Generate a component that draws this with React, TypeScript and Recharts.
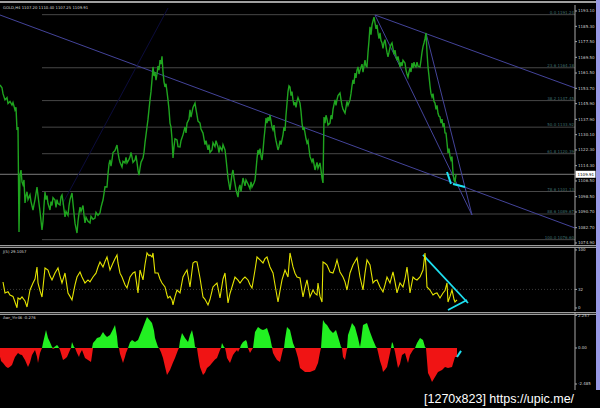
import React from "react";
import {
  Area,
  ComposedChart,
  Line,
  LineChart,
  ReferenceLine,
  XAxis,
  YAxis,
} from "recharts";

// GOLD H4 close, [bar, price]
const goldH4: [number, number][] = [
  [0, 1155.4], [2, 1154.0], [3, 1151.0], [5, 1147.8], [7, 1149.0], [8, 1146.0], [10, 1147.0], [12, 1145.2],
  [13, 1146.5], [15, 1142.7], [16, 1144.0], [17, 1132.5], [18, 1134.0], [19, 1080.5], [20, 1109.5], [21, 1112.0],
  [22, 1106.0], [23, 1104.5], [24, 1107.0], [25, 1095.3], [26, 1099.0], [27, 1101.0], [28, 1097.0], [30, 1099.4],
  [31, 1096.0], [33, 1091.7], [34, 1094.5], [35, 1097.0], [37, 1103.4], [38, 1099.0], [39, 1095.0], [40, 1091.0],
  [42, 1081.5], [43, 1086.0], [44, 1094.0], [45, 1100.9], [46, 1097.0], [47, 1099.0], [48, 1095.0], [50, 1091.7],
  [51, 1096.0], [52, 1094.0], [53, 1098.0], [55, 1096.8], [56, 1093.0], [57, 1097.0], [58, 1095.0], [60, 1094.3],
  [61, 1098.5], [62, 1099.4], [63, 1096.0], [64, 1092.0], [65, 1088.2], [66, 1091.0], [68, 1089.0], [69, 1094.0],
  [70, 1097.0], [72, 1100.4], [73, 1095.0], [74, 1090.0], [75, 1085.0], [77, 1080.0], [78, 1086.0], [79, 1090.0],
  [80, 1093.2], [81, 1091.0], [83, 1094.0], [84, 1089.0], [85, 1085.1], [86, 1088.0], [88, 1086.0], [90, 1085.1],
  [91, 1088.5], [93, 1087.0], [95, 1087.6], [96, 1090.5], [98, 1089.0], [100, 1090.2], [101, 1093.0], [102, 1095.0],
  [103, 1096.8], [104, 1100.0], [105, 1103.5], [107, 1103.4], [108, 1110.0], [109, 1115.0], [110, 1117.2], [111, 1114.0],
  [112, 1117.2], [113, 1121.0], [115, 1122.0], [117, 1124.8], [118, 1121.0], [119, 1118.0], [120, 1116.0], [122, 1113.6],
  [123, 1116.5], [125, 1115.7], [126, 1118.5], [127, 1115.7], [129, 1117.5], [130, 1118.7], [131, 1121.0], [132, 1118.7],
  [133, 1116.0], [135, 1117.2], [136, 1119.5], [137, 1116.0], [138, 1112.0], [139, 1109.5], [140, 1113.0], [141, 1116.0],
  [143, 1118.2], [144, 1121.0], [145, 1126.0], [146, 1130.0], [147, 1134.0], [148, 1138.0], [149, 1143.0], [150, 1147.8],
  [151, 1152.0], [152, 1158.0], [153, 1164.6], [154, 1160.0], [155, 1162.0], [156, 1157.9], [157, 1161.0], [158, 1165.0],
  [159, 1163.0], [160, 1168.1], [161, 1166.0], [162, 1170.0], [163, 1162.0], [164, 1157.0], [165, 1154.4], [166, 1156.0],
  [167, 1152.0], [168, 1147.8], [169, 1143.0], [170, 1136.0], [171, 1134.0], [172, 1128.0], [173, 1118.2], [174, 1124.0],
  [175, 1128.0], [177, 1127.4], [178, 1124.0], [180, 1123.8], [181, 1127.0], [183, 1130.0], [185, 1134.0], [186, 1131.0],
  [187, 1136.0], [189, 1138.0], [190, 1142.7], [191, 1139.0], [193, 1144.0], [195, 1146.2], [196, 1143.0], [197, 1140.0],
  [198, 1137.0], [200, 1136.0], [201, 1133.0], [203, 1130.9], [204, 1128.0], [205, 1125.0], [206, 1127.0], [208, 1122.3],
  [209, 1125.0], [210, 1121.0], [212, 1122.3], [213, 1126.0], [215, 1124.0], [216, 1127.0], [218, 1123.8], [219, 1121.0],
  [220, 1124.0], [222, 1122.0], [223, 1125.0], [225, 1122.3], [226, 1118.0], [227, 1113.0], [228, 1108.0], [230, 1101.9],
  [231, 1106.0], [232, 1110.0], [233, 1112.1], [234, 1108.0], [235, 1105.0], [236, 1102.0], [238, 1098.3], [239, 1103.0],
  [240, 1104.5], [241, 1101.0], [243, 1108.0], [244, 1106.0], [245, 1104.0], [246, 1107.0], [248, 1105.0], [250, 1102.5],
  [251, 1106.0], [252, 1103.4], [254, 1105.5], [255, 1107.0], [256, 1112.0], [257, 1118.0], [258, 1122.3], [259, 1120.0],
  [260, 1123.0], [261, 1119.0], [262, 1117.2], [263, 1122.0], [264, 1128.0], [265, 1133.0], [266, 1138.6], [267, 1136.0],
  [268, 1139.0], [269, 1137.0], [270, 1140.1], [271, 1137.0], [272, 1134.0], [273, 1132.5], [274, 1135.0], [275, 1130.0],
  [276, 1127.0], [278, 1122.3], [279, 1124.0], [280, 1127.0], [281, 1125.0], [283, 1130.0], [284, 1134.0], [285, 1132.0],
  [286, 1140.0], [287, 1146.0], [288, 1152.0], [289, 1155.0], [290, 1154.4], [291, 1150.0], [292, 1152.0], [293, 1147.8],
  [294, 1145.0], [295, 1146.7], [296, 1144.0], [297, 1147.0], [298, 1149.0], [300, 1146.2], [301, 1142.0], [302, 1136.0],
  [303, 1132.5], [304, 1134.0], [305, 1131.0], [306, 1128.0], [307, 1125.8], [308, 1127.0], [309, 1123.0], [310, 1119.0],
  [312, 1116.2], [313, 1118.0], [315, 1112.1], [316, 1114.0], [317, 1116.0], [318, 1113.0], [320, 1115.7], [321, 1112.0],
  [322, 1108.0], [323, 1105.5], [324, 1139.1], [325, 1136.0], [326, 1140.0], [327, 1138.0], [328, 1135.0], [330, 1136.0],
  [331, 1140.0], [332, 1138.0], [333, 1143.0], [335, 1147.8], [336, 1145.0], [337, 1148.0], [338, 1150.0], [340, 1151.3],
  [341, 1148.0], [342, 1145.0], [343, 1143.0], [345, 1141.1], [346, 1144.0], [347, 1147.0], [348, 1145.0], [350, 1147.8],
  [351, 1151.0], [352, 1155.0], [353, 1158.0], [354, 1156.0], [355, 1161.5], [356, 1159.0], [357, 1163.0], [358, 1164.6],
  [359, 1161.0], [360, 1163.0], [362, 1166.0], [363, 1162.0], [365, 1168.1], [366, 1165.0], [367, 1164.6], [368, 1172.0],
  [369, 1178.0], [370, 1185.0], [371, 1181.0], [372, 1186.0], [373, 1188.0], [374, 1190.0], [375, 1187.0], [376, 1184.0],
  [377, 1186.0], [378, 1181.9], [379, 1179.0], [380, 1182.0], [381, 1178.0], [382, 1176.8], [383, 1174.0], [384, 1177.0],
  [385, 1178.5], [386, 1175.0], [387, 1172.0], [388, 1169.7], [389, 1172.0], [390, 1174.5], [391, 1176.0], [392, 1176.8],
  [393, 1174.0], [394, 1171.0], [395, 1173.2], [396, 1170.0], [397, 1168.0], [398, 1170.0], [400, 1164.6], [401, 1167.0],
  [402, 1165.0], [403, 1168.0], [405, 1166.6], [406, 1163.0], [407, 1161.0], [408, 1159.5], [409, 1162.0], [410, 1164.0],
  [411, 1162.0], [412, 1166.6], [413, 1164.0], [414, 1167.0], [415, 1165.0], [416, 1164.6], [417, 1167.0], [418, 1165.0],
  [420, 1164.6], [421, 1168.0], [422, 1172.0], [423, 1175.0], [424, 1176.8], [425, 1179.0], [426, 1181.9], [427, 1172.0],
  [428, 1164.6], [429, 1160.0], [430, 1155.0], [431, 1151.0], [432, 1149.3], [433, 1151.0], [434, 1147.0], [435, 1146.2],
  [436, 1143.0], [437, 1145.0], [438, 1141.0], [439, 1139.5], [440, 1139.1], [441, 1136.0], [442, 1138.0], [443, 1134.0],
  [444, 1136.0], [445, 1131.0], [446, 1130.9], [447, 1126.0], [448, 1120.8], [449, 1123.0], [450, 1119.0], [451, 1117.2],
  [452, 1119.0], [453, 1110.6], [454, 1107.0], [455, 1106.0], [456, 1109.9],
];

// J(5) oscillator, [bar, value]
const jLine: [number, number][] = [
  [3, 44.8], [5, 25.9], [8, 28], [10, 22.4], [13, 20], [15, 10.3], [17, 0.5], [18, 17.2], [20, 15], [22, 19],
  [25, 12], [27, 1.7], [30, 31], [33, 43.1], [35, 50], [37, 70.7], [38, 43.1], [40, 30], [42, 19], [45, 69],
  [48, 65.5], [50, 55], [52, 48.3], [55, 60.3], [58, 69], [60, 55], [62, 43.1], [65, 60.3], [68, 25.9], [70, 20],
  [72, 13.8], [75, 40], [77, 53.4], [80, 62.1], [82, 53.4], [85, 43.1], [88, 48.3], [90, 45], [93, 53.4], [96, 60],
  [98, 70.7], [100, 79.3], [103, 70.7], [105, 80], [107, 87.9], [110, 65.5], [113, 77.6], [115, 85], [117, 91.4], [118, 77.6],
  [120, 60], [122, 53.4], [125, 40], [127, 34.5], [130, 53.4], [133, 60.3], [135, 62.1], [138, 25.9], [140, 65.5], [143, 48.3],
  [145, 75], [147, 94.8], [149, 90], [150, 91.4], [152, 88], [153, 94.8], [155, 60.3], [158, 60.3], [160, 50], [162, 43.1],
  [165, 36.2], [167, 22.4], [168, 17.2], [170, 20], [172, 13.8], [173, 5.2], [175, 20], [177, 31], [180, 25.9], [183, 53.4],
  [185, 60], [187, 65.5], [190, 36.2], [193, 77.6], [195, 80], [197, 79.3], [200, 51.7], [203, 19], [205, 15], [208, 5.2],
  [210, 15], [213, 36.2], [215, 40], [217, 43.1], [220, 17.2], [223, 50], [225, 60.3], [228, 8.6], [230, 25], [232, 36.2],
  [235, 53.4], [238, 48], [240, 43.1], [243, 50], [245, 53.4], [248, 48.3], [250, 40], [252, 34.5], [255, 65.5], [257, 87.9],
  [260, 82.8], [263, 77.6], [265, 85], [267, 87.9], [270, 70.7], [273, 60.3], [275, 40], [278, 10.3], [280, 30], [282, 48.3],
  [285, 65.5], [288, 53.4], [290, 94.8], [293, 70.7], [295, 60], [297, 53.4], [300, 51.7], [303, 19], [305, 35], [307, 48.3],
  [310, 19], [313, 31], [315, 25], [317, 22.4], [318, 43.1], [320, 20], [322, 10.3], [323, 79.3], [325, 77], [327, 74.1],
  [330, 62.1], [333, 60.3], [335, 70], [337, 82.8], [340, 62.1], [343, 53.4], [345, 45], [347, 31], [350, 60.3], [353, 74.1],
  [355, 80], [357, 86.2], [360, 53.4], [363, 31], [365, 60], [367, 82.8], [370, 74.1], [373, 43.1], [375, 47], [377, 48.3],
  [380, 36.2], [383, 27.6], [385, 40], [387, 53.4], [390, 43.1], [393, 62.1], [395, 45], [397, 25.9], [400, 43.1], [403, 36.2],
  [405, 50], [407, 70.7], [410, 25.9], [413, 53.4], [415, 50], [417, 48.3], [420, 53.4], [423, 65.5], [425, 94.8], [426, 70],
  [427, 36.2], [430, 31], [433, 22.4], [435, 25], [437, 25.9], [440, 17.2], [443, 25.9], [445, 30], [447, 43.1], [448, 10.3],
  [450, 20], [452, 31], [454, 15], [455, 10.3], [457, 13.8],
];

// Awr_Ytr46 histogram, [bar, value]
const awrHist: [number, number][] = [
  [0, -0.6], [1, -0.9], [3, -1.03], [6, -1.3], [8, -1.38], [10, -1.3], [12, -1.17], [14, -0.8], [15, -0.62], [18, -0.34],
  [20, -0.45], [22, -0.48], [25, -0.83], [28, -1.31], [30, -1.0], [32, -0.48], [35, -0.14], [37, -0.6], [38, -1.03], [40, -0.34],
  [42, 0], [43, 0.34], [46, 1.24], [48, 0.69], [50, 0.4], [52, 0.07], [53, -0.07], [55, 0.1], [57, 0.21], [58, 0.14],
  [59, 0], [60, -0.14], [63, -0.83], [65, -0.75], [67, -0.62], [70, -0.14], [71, 0], [72, 0.41], [74, 0.07], [75, 0],
  [77, -0.34], [79, -0.62], [80, -0.4], [82, -0.14], [85, -0.69], [88, -0.83], [91, -0.97], [92, -0.5], [93, 0.34], [95, 0.5],
  [97, 0.69], [100, 0.76], [103, 1.1], [105, 0.9], [107, 0.76], [110, 0.9], [113, 1.3], [115, 1.59], [117, 0.8], [118, 0.07],
  [119, 0], [120, -0.4], [123, -1.03], [125, -0.6], [126, -0.34], [128, 0], [130, 0.4], [132, 0.55], [135, 0.41], [138, 0.55],
  [140, 0.9], [142, 1.24], [145, 1.8], [147, 2.14], [150, 1.9], [152, 1.72], [154, 1.2], [155, 0.69], [158, 0.07], [159, 0],
  [161, -0.3], [163, -0.69], [165, -1.3], [167, -1.86], [170, -1.52], [173, -1.0], [175, -0.69], [178, -0.14], [179, 0], [180, 0.5],
  [182, 1.03], [185, 0.69], [188, 0.41], [190, 0.9], [192, 1.24], [194, 0.6], [195, 0.07], [197, 0], [198, -0.5], [200, -1.31],
  [203, -1.86], [205, -1.7], [207, -1.38], [210, -1.2], [212, -1.03], [215, -0.8], [217, -0.69], [220, -0.14], [221, 0], [222, 0.34],
  [224, 0.07], [225, 0], [226, -0.3], [227, -0.69], [230, -1.03], [233, -0.48], [235, -0.3], [237, -0.14], [238, -0.28], [240, 0],
  [241, 0.2], [243, 0.41], [246, 0.55], [247, 0.4], [248, 0], [250, -0.34], [252, -0.1], [253, 0], [255, 1.1], [258, 1.45],
  [261, 1.3], [263, 1.24], [265, 1.3], [267, 1.38], [270, 0.76], [272, 0.07], [273, -0.34], [275, -0.6], [277, -0.83], [280, -0.97],
  [283, -0.07], [284, 0], [285, 0.6], [287, 1.45], [290, 1.24], [293, 0.34], [295, 0], [296, -0.2], [298, -0.69], [300, -1.38],
  [305, -1.66], [310, -1.66], [315, -1.52], [318, -1.03], [320, -0.3], [321, 0], [322, 1.0], [323, 1.93], [325, 1.7], [327, 1.59],
  [330, 1.24], [333, 1.03], [336, 1.24], [339, 0.55], [341, 0.07], [342, 0], [343, -0.62], [345, -0.83], [347, -0.07], [348, 0.9],
  [350, 1.3], [352, 1.72], [355, 1.45], [358, 0.69], [360, 0.07], [361, 0.5], [363, 1.59], [367, 1.72], [370, 1.1], [373, 0.55],
  [376, 0.07], [377, 0], [378, -0.28], [380, -0.9], [382, -1.31], [383, -1.66], [385, -1.5], [387, -1.31], [390, -0.34], [391, 0],
  [392, 0.41], [393, 0.3], [394, 0], [395, -0.28], [398, -1.38], [400, -1.1], [402, -0.48], [405, -0.34], [407, -0.83], [408, -1.03],
  [410, -0.48], [413, -0.14], [415, 0], [417, 0.34], [420, 0.69], [423, 0.55], [425, 0.07], [426, 0], [428, -1.72], [430, -2.0],
  [432, -2.34], [435, -2.0], [438, -1.66], [442, -1.52], [445, -1.31], [448, -1.38], [452, -1.31], [455, -0.62], [457, -0.62],
];

const priceTicks = [
  1193.1, 1185.3, 1177.5, 1169.5, 1161.5, 1153.7, 1145.9, 1137.9,
  1130.1, 1122.3, 1114.3, 1106.5, 1098.5, 1090.7, 1082.7, 1074.9,
];
const jTicks = [0, 32, 100];
const awrTicks = [2.257, 0, -2.485];
const awrTickText: Record<string, string> = { "2.257": "2.257", "0": "0.00", "-2.485": "-2.485" };

const fibHigh = 1191.24;
const fibLow = 1076.6;
const fibLevels = [0, 23.6, 38.2, 50, 61.8, 78.6, 88.6, 100];
const fibStartBar = 42;
const lastClose = 1109.91;

// drawn objects, [bar, price] endpoints
const trendLines: { a: [number, number]; b: [number, number]; color: string; w: number }[] = [
  { a: [0, 1191.06], b: [575, 1082.54], color: "#44449a", w: 1 },
  { a: [375, 1191.06], b: [575, 1153.87], color: "#44449a", w: 1 },
  { a: [375, 1191.06], b: [472, 1089.16], color: "#44449a", w: 1 },
  { a: [426, 1181.9], b: [472, 1089.16], color: "#44449a", w: 1 },
  { a: [62, 1094.3], b: [168, 1194.6], color: "#0c0c3c", w: 1 },
  { a: [447, 1111.1], b: [451, 1105.0], color: "#1ee0f0", w: 2 },
  { a: [453, 1105.0], b: [465, 1103.4], color: "#1ee0f0", w: 2 },
];
const jArrows: { a: [number, number]; b: [number, number] }[] = [
  { a: [423, 91.4], b: [468, 8.6] },
  { a: [448, -3.4], b: [467, 13.8] },
];
const awrArrows: { a: [number, number]; b: [number, number] }[] = [
  { a: [457, -0.62], b: [461, -0.2] },
];

const W = 600;
const AXIS_W = 25;
const LAST_BAR = 575;
const axisColor = "#a8a8a8";
const tickStyle = { fill: "#cfcfcf", fontSize: 4 };

const priceData = goldH4.map(([x, p]) => ({ x, p }));
const jData = jLine.map(([x, j]) => ({ x, j }));
const awrData = awrHist.map(([x, v]) => ({ x, v }));

function PriceBadge(props: any) {
  const vb = props.viewBox || {};
  const x = (vb.x || 0) + (vb.width || 0) + 0.5;
  const y = vb.y || 0;
  return (
    <g>
      <rect x={x} y={y - 3.5} width={20} height={7} fill="#ffffff" />
      <text x={x + 2} y={y + 1.5} fontSize={4} fill="#000000">
        {lastClose.toFixed(2)}
      </text>
    </g>
  );
}

function Separator({ top }: { top: number }) {
  return (
    <div
      style={{
        position: "absolute",
        left: 0,
        top,
        width: W,
        height: 1,
        borderTop: "1px solid #9c9c9c",
        borderBottom: "1px solid #9c9c9c",
        background: "#2a2a2a",
      }}
    />
  );
}

export default function App() {
  return (
    <div
      style={{
        position: "fixed",
        left: 0,
        top: 0,
        width: W,
        height: 408,
        background: "#000",
        overflow: "hidden",
        fontFamily: "'DejaVu Sans', sans-serif",
      }}
    >
      <div style={{ position: "absolute", left: 0, top: 1, width: W, height: 2, background: "#a0a0a0" }} />

      {/* main price window */}
      <div style={{ position: "absolute", left: 0, top: 5 }}>
        <LineChart width={W} height={240} data={priceData} margin={{ top: 0, right: 0, bottom: 0, left: 0 }}>
          <XAxis dataKey="x" type="number" domain={[0, LAST_BAR]} hide allowDataOverflow />
          <YAxis
            orientation="right"
            width={AXIS_W}
            domain={[1073.88, 1196.16]}
            allowDataOverflow
            ticks={priceTicks}
            interval={0}
            tick={tickStyle}
            tickSize={2}
            tickMargin={1}
            stroke={axisColor}
            tickFormatter={(v: number) => v.toFixed(2)}
          />
          {fibLevels.map((lvl) => {
            const price = fibHigh - ((fibHigh - fibLow) * lvl) / 100;
            return (
              <ReferenceLine
                key={lvl}
                segment={[{ x: fibStartBar, y: price }, { x: LAST_BAR, y: price }]}
                stroke="#474747"
                label={{
                  value: `${lvl.toFixed(1)} ${price.toFixed(2)}`,
                  position: "insideBottomRight",
                  fill: "#3e6e6e",
                  fontSize: 4,
                  offset: 1,
                }}
              />
            );
          })}
          <ReferenceLine y={lastClose} stroke="#7c7c7c" label={<PriceBadge />} />
          {trendLines.map((t, i) => (
            <ReferenceLine
              key={i}
              segment={[{ x: t.a[0], y: t.a[1] }, { x: t.b[0], y: t.b[1] }]}
              stroke={t.color}
              strokeWidth={t.w}
            />
          ))}
          <Line
            type="linear"
            dataKey="p"
            stroke="#1fa41f"
            strokeWidth={1.4}
            dot={false}
            isAnimationActive={false}
          />
        </LineChart>
      </div>

      <Separator top={245} />

      {/* J(5) window */}
      <div style={{ position: "absolute", left: 0, top: 248 }}>
        <LineChart width={W} height={63} data={jData} margin={{ top: 0, right: 0, bottom: 0, left: 0 }}>
          <XAxis dataKey="x" type="number" domain={[0, LAST_BAR]} hide allowDataOverflow />
          <YAxis
            orientation="right"
            width={AXIS_W}
            domain={[-5.2, 103.4]}
            allowDataOverflow
            ticks={jTicks}
            interval={0}
            tick={tickStyle}
            tickSize={2}
            tickMargin={1}
            stroke={axisColor}
          />
          <ReferenceLine y={32} stroke="#3a3a3a" strokeDasharray="1 2" />
          {jArrows.map((t, i) => (
            <ReferenceLine
              key={i}
              segment={[{ x: t.a[0], y: t.a[1] }, { x: t.b[0], y: t.b[1] }]}
              stroke="#1ee0f0"
              strokeWidth={1.8}
            />
          ))}
          <Line
            type="linear"
            dataKey="j"
            stroke="#e4e400"
            strokeWidth={1.1}
            dot={false}
            isAnimationActive={false}
          />
        </LineChart>
      </div>

      <Separator top={312} />

      {/* Awr_Ytr46 window */}
      <div style={{ position: "absolute", left: 0, top: 312 }}>
        <ComposedChart width={W} height={96} data={awrData} margin={{ top: 0, right: 0, bottom: 0, left: 0 }}>
          <XAxis dataKey="x" type="number" domain={[0, LAST_BAR]} hide allowDataOverflow />
          <YAxis
            orientation="right"
            width={AXIS_W}
            domain={[-4.14, 2.483]}
            allowDataOverflow
            ticks={awrTicks}
            interval={0}
            tick={tickStyle}
            tickSize={2}
            tickMargin={1}
            stroke={axisColor}
            tickFormatter={(v: number) => awrTickText[String(v)] ?? String(v)}
          />
          <Area
            type="linear"
            dataKey={(d: any) => Math.max(d.v, 0)}
            baseValue={0}
            stroke="none"
            fill="#22f022"
            fillOpacity={1}
            isAnimationActive={false}
          />
          <Area
            type="linear"
            dataKey={(d: any) => Math.min(d.v, 0)}
            baseValue={0}
            stroke="none"
            fill="#f01414"
            fillOpacity={1}
            isAnimationActive={false}
          />
          {awrArrows.map((t, i) => (
            <ReferenceLine
              key={i}
              segment={[{ x: t.a[0], y: t.a[1] }, { x: t.b[0], y: t.b[1] }]}
              stroke="#1ee0f0"
              strokeWidth={2}
            />
          ))}
        </ComposedChart>
      </div>

      <svg width={W} height={408} style={{ position: "absolute", left: 0, top: 0, pointerEvents: "none" }}>
        <text x={3} y={8.5} fontSize={3.8} fill="#d8d8d8">
          GOLD,H4 1107.20 1110.40 1107.25 1109.91
        </text>
        <text x={3} y={252.5} fontSize={3.8} fill="#d8d8d8">
          J(5) 29.1057
        </text>
        <text x={3} y={318.5} fontSize={3.8} fill="#d8d8d8">
          Awr_Ytr46 -0.276
        </text>
      </svg>

      <div style={{ position: "absolute", left: 596, top: 0, width: 4, height: 392, background: "#9a9ae6" }} />

      <div
        style={{
          position: "absolute",
          left: 421,
          top: 390,
          width: 179,
          height: 18,
          background: "#000",
          color: "#fff",
          fontFamily: "'Liberation Sans', sans-serif",
          fontSize: 12.5,
          lineHeight: "18px",
          whiteSpace: "nowrap",
          paddingLeft: 3,
          boxSizing: "border-box",
        }}
      >
        [1270x823] https://upic.me/
      </div>
    </div>
  );
}
